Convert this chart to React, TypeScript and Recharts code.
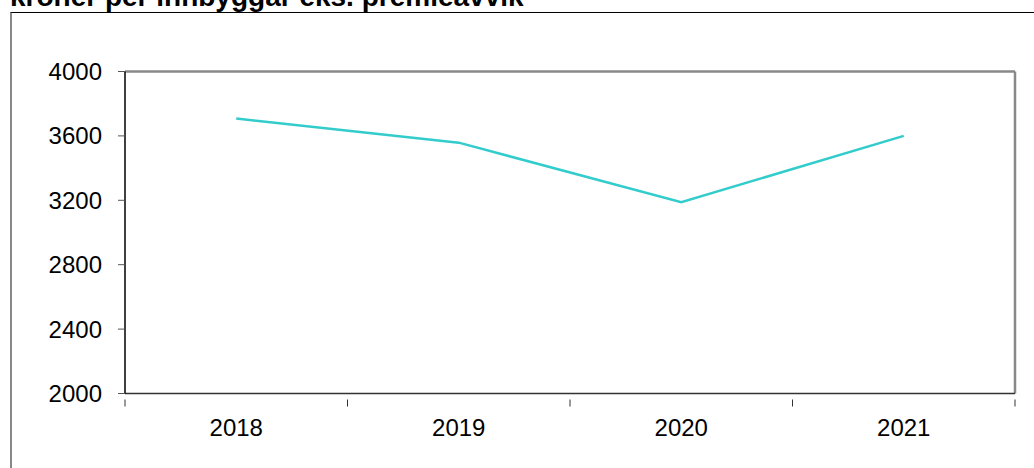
import { LineChart, Line, XAxis, YAxis, CartesianGrid } from "recharts";

const years = ["2018", "2019", "2020", "2021"];
const kronerPerInnbyggar = [3708, 3558, 3188, 3600];
const yTicks = [2000, 2400, 2800, 3200, 3600, 4000];

const title = "kroner per innbyggar eks. premieavvik";

const W = 1034;
const H = 468;
const MARGIN = { top: 71.5, right: 19, bottom: 44.5, left: 0 };
const Y_AXIS_W = 125;
const X_AXIS_H = 30;
const PLOT_W = W - MARGIN.left - MARGIN.right - Y_AXIS_W;
const HALF_BAND = PLOT_W / years.length / 2;
const FONT = "'Liberation Sans', Arial, sans-serif";

const chartData = years.map((year, i) => ({
  year,
  value: kronerPerInnbyggar[i],
}));

// excel style: tick marks sit between categories, labels in the middle
function YearTick(props: any) {
  const { x, y, payload, index } = props;
  const last = index === years.length - 1;
  return (
    <g>
      <line x1={x - HALF_BAND} x2={x - HALF_BAND} y1={y} y2={y + 7} stroke="#333" />
      {last && (
        <line x1={x + HALF_BAND} x2={x + HALF_BAND} y1={y} y2={y + 7} stroke="#333" />
      )}
      <text
        x={x}
        y={y + 28}
        textAnchor="middle"
        dominantBaseline="central"
        fontSize={24}
        fontFamily={FONT}
        fill="#000"
      >
        {payload.value}
      </text>
    </g>
  );
}

export default function App() {
  return (
    <div
      style={{
        position: "absolute",
        left: 0,
        top: 0,
        width: W,
        height: H,
        overflow: "hidden",
        background: "#fff",
      }}
    >
      <div
        style={{
          position: "absolute",
          left: 10,
          top: 12,
          width: W,
          height: H,
          borderTop: "1px solid #000",
          borderLeft: "2px solid #888",
        }}
      />
      <div
        style={{
          position: "absolute",
          left: 10,
          top: -17,
          fontFamily: FONT,
          fontWeight: "bold",
          fontSize: 28,
          lineHeight: "28px",
          whiteSpace: "nowrap",
        }}
      >
        {title}
      </div>
      <div style={{ position: "absolute", left: 0, top: 0 }}>
        <LineChart width={W} height={H} data={chartData} margin={MARGIN}>
          {/* gray frame on top and right of the plot */}
          <CartesianGrid
            stroke="#888"
            strokeWidth={2.5}
            horizontalCoordinatesGenerator={({ offset }: any) => [offset.top]}
            verticalCoordinatesGenerator={({ offset }: any) => [
              offset.left + offset.width,
            ]}
          />
          <XAxis
            dataKey="year"
            height={X_AXIS_H}
            padding={{ left: HALF_BAND, right: HALF_BAND }}
            axisLine={{ stroke: "#333", strokeWidth: 1.5 }}
            tickLine={false}
            tick={<YearTick />}
            tickMargin={0}
            interval={0}
          />
          <YAxis
            width={Y_AXIS_W}
            domain={[2000, 4000]}
            ticks={yTicks}
            interval={0}
            axisLine={{ stroke: "#000", strokeWidth: 1.5 }}
            tickLine={{ stroke: "#555" }}
            tickSize={7}
            tickMargin={16}
            tick={{ fontSize: 24, fontFamily: FONT, fill: "#000" }}
          />
          <Line
            dataKey="value"
            stroke="#33CCCC"
            strokeWidth={2.5}
            dot={false}
            isAnimationActive={false}
          />
        </LineChart>
      </div>
    </div>
  );
}
